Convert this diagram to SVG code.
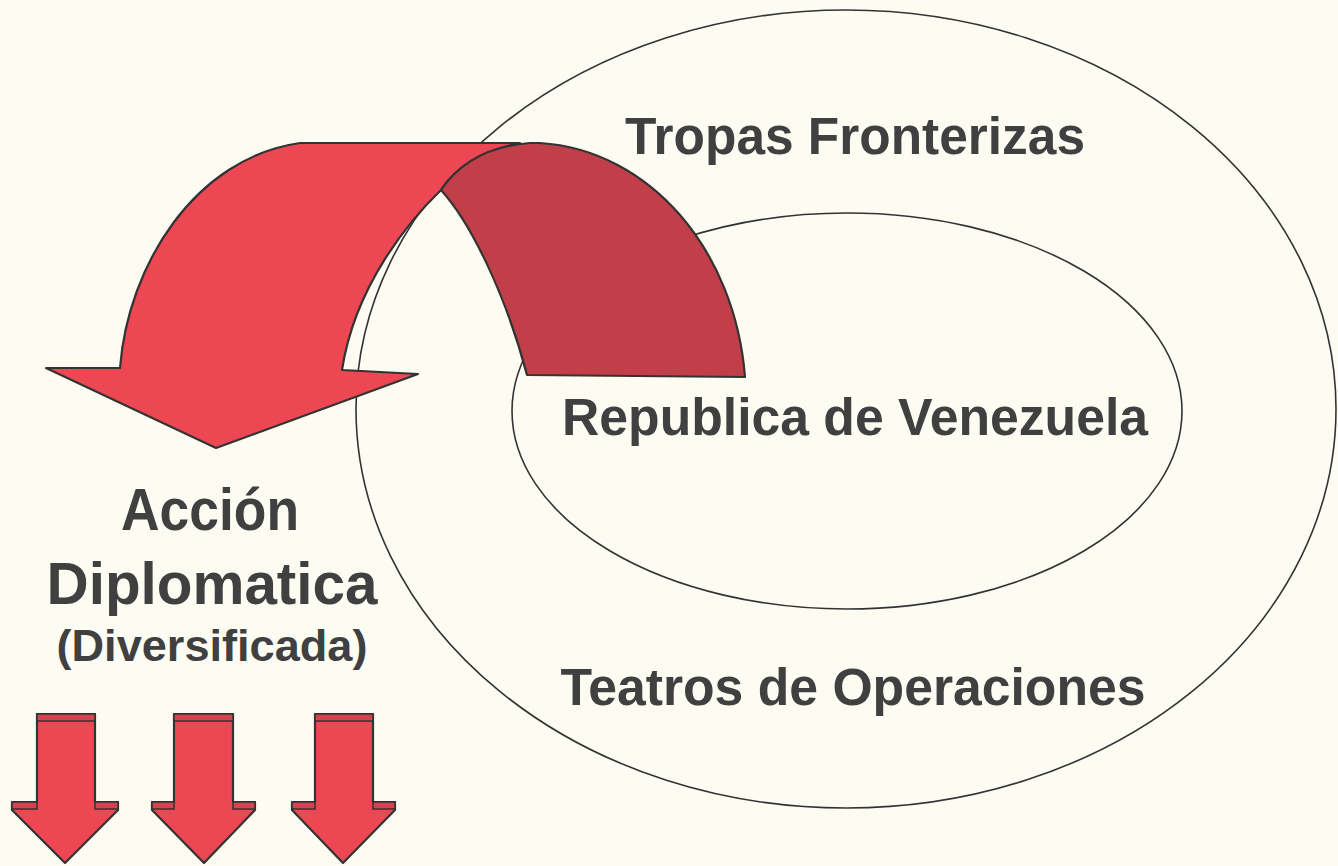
<svg xmlns="http://www.w3.org/2000/svg" width="1338" height="866" viewBox="0 0 1338 866">
<style>
.ring{fill:none;stroke:#333;stroke-width:1.6}
.lbl{font-family:"Liberation Sans",Arial,sans-serif;font-weight:bold;fill:#404040}
.arr{fill:#ed4753;stroke:#333;stroke-width:2.2;stroke-linejoin:round}
.dark{fill:#c23f49;stroke:#333;stroke-width:2.2;stroke-linejoin:round}
.band{fill:#d8424d;stroke:#333;stroke-width:1.5}
</style>
<rect width="1338" height="866" fill="#fdfcf3"/>
<g id="outer-ring">
<ellipse class="ring" cx="846" cy="409" rx="490" ry="399"/>
<text class="lbl" x="855" y="154" font-size="51" text-anchor="middle" textLength="460" lengthAdjust="spacingAndGlyphs">Tropas Fronterizas</text>
<text class="lbl" x="853" y="705" font-size="51" text-anchor="middle" textLength="585" lengthAdjust="spacingAndGlyphs">Teatros de Operaciones</text>
</g>
<g id="inner-ring">
<ellipse class="ring" cx="847" cy="411" rx="335" ry="198"/>
<text class="lbl" x="855" y="435" font-size="51" text-anchor="middle" textLength="586" lengthAdjust="spacingAndGlyphs">Republica de Venezuela</text>
</g>
<g id="curved-arrow">
<path class="arr" d="M120,368 C128,265 195,158 300,143 L520,143 C485,150 455,168 441,190 C410,220 355,285 342,370 L418,374 L216,448 L46,368 Z"/>
<path class="dark" d="M441,190 C460,162 490,146 530,143 L540,143 C650,150 735,250 745,377 L527,375 C505,292 470,222 441,190 Z"/>
</g>
<g id="accion">
<text class="lbl" x="210" y="530" font-size="60" text-anchor="middle" textLength="178" lengthAdjust="spacingAndGlyphs">Acción</text>
<text class="lbl" x="212" y="604" font-size="60" text-anchor="middle" textLength="331" lengthAdjust="spacingAndGlyphs">Diplomatica</text>
<text class="lbl" x="212" y="661" font-size="44" text-anchor="middle" textLength="311" lengthAdjust="spacingAndGlyphs">(Diversificada)</text>
</g>
<g id="down-arrows">
<g id="down-1">
<path class="arr" d="M37,714 H95 V802 H118 V810 L65,863 L12,810 V802 H37 Z"/>
<rect class="band" x="37" y="714" width="58" height="7"/>
<rect class="band" x="12" y="802" width="25" height="7"/>
<rect class="band" x="95" y="802" width="23" height="7"/>
</g>
<g id="down-2">
<path class="arr" d="M174,714 H233 V802 H255 V810 L204,863 L152,810 V802 H174 Z"/>
<rect class="band" x="174" y="714" width="59" height="7"/>
<rect class="band" x="152" y="802" width="22" height="7"/>
<rect class="band" x="233" y="802" width="22" height="7"/>
</g>
<g id="down-3">
<path class="arr" d="M315,714 H373 V802 H395 V810 L343,863 L292,810 V802 H315 Z"/>
<rect class="band" x="315" y="714" width="58" height="7"/>
<rect class="band" x="292" y="802" width="23" height="7"/>
<rect class="band" x="373" y="802" width="22" height="7"/>
</g>
</g>
</svg>
